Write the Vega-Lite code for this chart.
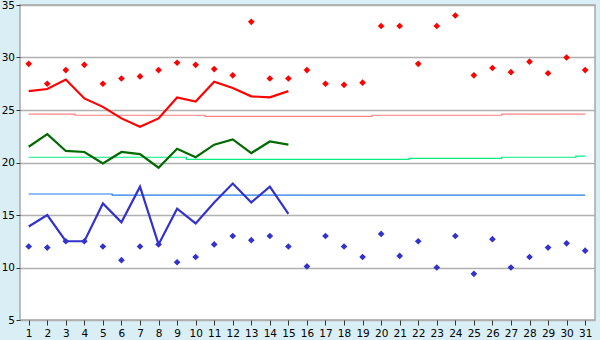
{
  "$schema": "https://vega.github.io/schema/vega-lite/v6.json",
  "width": 575,
  "height": 315,
  "autosize": {"type": "none"},
  "padding": {"left": 20, "top": 5, "right": 5, "bottom": 20},
  "background": "#d9eef5",
  "config": {
    "view": {"fill": "#ffffff", "stroke": "#a8a8a8", "strokeWidth": 1.5},
    "axis": {"labelFont": "DejaVu Sans", "labelFontSize": 10.5, "labelColor": "#000000", "domain": false, "tickColor": "#333333", "title": null, "labelOverlap": false},
    "axisX": {"grid": false, "tickSize": 5, "labelPadding": 3},
    "axisY": {"grid": true, "gridColor": "#b0b0b0", "gridWidth": 1.5, "tickSize": 4, "labelPadding": 1.5}
  },
  "data": {"values": [
    {"day":1,"max":29.4,"min":12.0,"hiLine":26.8,"meanLine":21.5,"loLine":13.9,"nmax":24.6,"nmean":20.5,"nmin":17.0},
    {"day":2,"max":27.5,"min":11.9,"hiLine":27.0,"meanLine":22.7,"loLine":15.0,"nmax":24.6,"nmean":20.5,"nmin":17.0},
    {"day":3,"max":28.8,"min":12.5,"hiLine":27.9,"meanLine":21.1,"loLine":12.5,"nmax":24.6,"nmean":20.5,"nmin":17.0},
    {"day":4,"max":29.3,"min":12.5,"hiLine":26.1,"meanLine":21.0,"loLine":12.5,"nmax":24.5,"nmean":20.5,"nmin":17.0},
    {"day":5,"max":27.5,"min":12.0,"hiLine":25.3,"meanLine":19.9,"loLine":16.1,"nmax":24.5,"nmean":20.5,"nmin":17.0},
    {"day":6,"max":28.0,"min":10.7,"hiLine":24.2,"meanLine":21.0,"loLine":14.3,"nmax":24.5,"nmean":20.5,"nmin":16.9},
    {"day":7,"max":28.2,"min":12.0,"hiLine":23.4,"meanLine":20.8,"loLine":17.7,"nmax":24.5,"nmean":20.5,"nmin":16.9},
    {"day":8,"max":28.8,"min":12.2,"hiLine":24.2,"meanLine":19.5,"loLine":12.2,"nmax":24.5,"nmean":20.5,"nmin":16.9},
    {"day":9,"max":29.5,"min":10.5,"hiLine":26.2,"meanLine":21.3,"loLine":15.6,"nmax":24.5,"nmean":20.5,"nmin":16.9},
    {"day":10,"max":29.3,"min":11.0,"hiLine":25.8,"meanLine":20.5,"loLine":14.2,"nmax":24.5,"nmean":20.3,"nmin":16.9},
    {"day":11,"max":28.9,"min":12.2,"hiLine":27.7,"meanLine":21.7,"loLine":16.2,"nmax":24.4,"nmean":20.3,"nmin":16.9},
    {"day":12,"max":28.3,"min":13.0,"hiLine":27.1,"meanLine":22.2,"loLine":18.0,"nmax":24.4,"nmean":20.3,"nmin":16.9},
    {"day":13,"max":33.4,"min":12.6,"hiLine":26.3,"meanLine":20.9,"loLine":16.2,"nmax":24.4,"nmean":20.3,"nmin":16.9},
    {"day":14,"max":28.0,"min":13.0,"hiLine":26.2,"meanLine":22.0,"loLine":17.7,"nmax":24.4,"nmean":20.3,"nmin":16.9},
    {"day":15,"max":28.0,"min":12.0,"hiLine":26.8,"meanLine":21.7,"loLine":15.1,"nmax":24.4,"nmean":20.3,"nmin":16.9},
    {"day":16,"max":28.8,"min":10.1,"hiLine":null,"meanLine":null,"loLine":null,"nmax":24.4,"nmean":20.3,"nmin":16.9},
    {"day":17,"max":27.5,"min":13.0,"hiLine":null,"meanLine":null,"loLine":null,"nmax":24.4,"nmean":20.3,"nmin":16.9},
    {"day":18,"max":27.4,"min":12.0,"hiLine":null,"meanLine":null,"loLine":null,"nmax":24.4,"nmean":20.3,"nmin":16.9},
    {"day":19,"max":27.6,"min":11.0,"hiLine":null,"meanLine":null,"loLine":null,"nmax":24.4,"nmean":20.3,"nmin":16.9},
    {"day":20,"max":33.0,"min":13.2,"hiLine":null,"meanLine":null,"loLine":null,"nmax":24.5,"nmean":20.3,"nmin":16.9},
    {"day":21,"max":33.0,"min":11.1,"hiLine":null,"meanLine":null,"loLine":null,"nmax":24.5,"nmean":20.3,"nmin":16.9},
    {"day":22,"max":29.4,"min":12.5,"hiLine":null,"meanLine":null,"loLine":null,"nmax":24.5,"nmean":20.4,"nmin":16.9},
    {"day":23,"max":33.0,"min":10.0,"hiLine":null,"meanLine":null,"loLine":null,"nmax":24.5,"nmean":20.4,"nmin":16.9},
    {"day":24,"max":34.0,"min":13.0,"hiLine":null,"meanLine":null,"loLine":null,"nmax":24.5,"nmean":20.4,"nmin":16.9},
    {"day":25,"max":28.3,"min":9.4,"hiLine":null,"meanLine":null,"loLine":null,"nmax":24.5,"nmean":20.4,"nmin":16.9},
    {"day":26,"max":29.0,"min":12.7,"hiLine":null,"meanLine":null,"loLine":null,"nmax":24.5,"nmean":20.4,"nmin":16.9},
    {"day":27,"max":28.6,"min":10.0,"hiLine":null,"meanLine":null,"loLine":null,"nmax":24.6,"nmean":20.5,"nmin":16.9},
    {"day":28,"max":29.6,"min":11.0,"hiLine":null,"meanLine":null,"loLine":null,"nmax":24.6,"nmean":20.5,"nmin":16.9},
    {"day":29,"max":28.5,"min":11.9,"hiLine":null,"meanLine":null,"loLine":null,"nmax":24.6,"nmean":20.5,"nmin":16.9},
    {"day":30,"max":30.0,"min":12.3,"hiLine":null,"meanLine":null,"loLine":null,"nmax":24.6,"nmean":20.5,"nmin":16.9},
    {"day":31,"max":28.8,"min":11.6,"hiLine":null,"meanLine":null,"loLine":null,"nmax":24.6,"nmean":20.6,"nmin":16.9}
  ]},
  "encoding": {
    "x": {"field": "day", "type": "quantitative", "scale": {"domain": [0.53, 31.53], "nice": false, "zero": false},
          "axis": {"values": [1,2,3,4,5,6,7,8,9,10,11,12,13,14,15,16,17,18,19,20,21,22,23,24,25,26,27,28,29,30,31], "labelOverlap": false}}
  },
  "layer": [
    {"mark": {"type": "line", "interpolate": "step", "color": "#ff8080", "strokeWidth": 1.2},
     "encoding": {"y": {"field": "nmax", "type": "quantitative", "scale": {"domain": [5, 35], "nice": false, "zero": false},
                        "axis": {"values": [5,10,15,20,25,30,35]}}}},
    {"mark": {"type": "line", "interpolate": "step", "color": "#00f080", "strokeWidth": 1.2},
     "encoding": {"y": {"field": "nmean", "type": "quantitative", "scale": {"domain": [5, 35], "nice": false, "zero": false}}}},
    {"mark": {"type": "line", "interpolate": "step", "color": "#1f7fe6", "strokeWidth": 1.2},
     "encoding": {"y": {"field": "nmin", "type": "quantitative", "scale": {"domain": [5, 35], "nice": false, "zero": false}}}},
    {"mark": {"type": "line", "color": "#ff0000", "strokeWidth": 2.2},
     "encoding": {"y": {"field": "hiLine", "type": "quantitative", "scale": {"domain": [5, 35], "nice": false, "zero": false}}}},
    {"mark": {"type": "line", "color": "#006a00", "strokeWidth": 2.2},
     "encoding": {"y": {"field": "meanLine", "type": "quantitative", "scale": {"domain": [5, 35], "nice": false, "zero": false}}}},
    {"mark": {"type": "line", "color": "#3333cc", "strokeWidth": 2.2},
     "encoding": {"y": {"field": "loLine", "type": "quantitative", "scale": {"domain": [5, 35], "nice": false, "zero": false}}}},
    {"mark": {"type": "point", "shape": "diamond", "filled": true, "color": "#ff0000", "size": 45, "opacity": 1},
     "encoding": {"y": {"field": "max", "type": "quantitative", "scale": {"domain": [5, 35], "nice": false, "zero": false}}}},
    {"mark": {"type": "point", "shape": "diamond", "filled": true, "color": "#3333cc", "size": 45, "opacity": 1},
     "encoding": {"y": {"field": "min", "type": "quantitative", "scale": {"domain": [5, 35], "nice": false, "zero": false}}}}
  ]
}
